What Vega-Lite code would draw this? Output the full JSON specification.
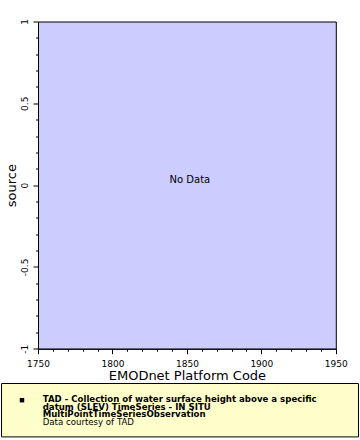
{
  "$schema": "https://vega.github.io/schema/vega-lite/v6.json",
  "padding": {"left": 1, "top": 17.5, "right": 0, "bottom": 0},
  "spacing": -2,
  "resolve": {"scale": {"x": "independent", "y": "independent"}},
  "config": {
    "font": "DejaVu Sans",
    "axis": {
      "labelColor": "#000", "titleColor": "#000", "tickColor": "#000", "domainColor": "#000",
      "labelFont": "DejaVu Sans", "titleFont": "DejaVu Sans", "titleFontWeight": "normal",
      "labelFontSize": 9, "titleFontSize": 13, "grid": false, "tickWidth": 1, "domainWidth": 1
    }
  },
  "vconcat": [
    {
      "width": 297.8,
      "height": 327.2,
      "view": {"fill": "#ccccff", "stroke": "#000", "strokeWidth": 1},
      "data": {"values": [{"message": "No Data"}]},
      "mark": {"type": "text", "font": "DejaVu Sans", "fontSize": 10, "color": "#000", "align": "center", "baseline": "alphabetic"},
      "encoding": {
        "x": {
          "datum": 1852, "type": "quantitative",
          "scale": {"domain": [1750, 1950], "nice": false, "zero": false},
          "axis": {
            "title": "EMODnet Platform Code",
            "values": [1750,1760,1770,1780,1790,1800,1810,1820,1830,1840,1850,1860,1870,1880,1890,1900,1910,1920,1930,1940,1950],
            "labelExpr": "datum.value % 50 === 0 ? toString(datum.value) : ''",
            "tickSize": {"condition": {"test": "datum.value % 50 === 0", "value": 5}, "value": 2.5},
            "labelPadding": 6, "labelFlush": false, "labelOverlap": false, "titlePadding": 1
          }
        },
        "y": {
          "datum": 0.01, "type": "quantitative",
          "scale": {"domain": [-1, 1], "nice": false, "zero": false},
          "axis": {
            "title": ["", "source"],
            "titleLineHeight": 1,
            "titleBaseline": "bottom",
            "titlePadding": 1.5,
            "values": [-1,-0.9,-0.8,-0.7,-0.6,-0.5,-0.4,-0.3,-0.2,-0.1,0,0.1,0.2,0.3,0.4,0.5,0.6,0.7,0.8,0.9,1],
            "labelExpr": "abs(datum.value*2 - round(datum.value*2)) < 1e-6 ? (datum.value < -1e-9 ? '-' + toString(abs(round(datum.value*2))/2) : toString(round(datum.value*2)/2)) : ''",
            "tickSize": {"condition": {"test": "abs(datum.value*2 - round(datum.value*2)) < 1e-6", "value": 5}, "value": 2.5},
            "labelAngle": 270, "labelAlign": "center", "labelBaseline": "bottom",
            "labelPadding": 4, "labelOverlap": false
          }
        },
        "text": {"field": "message"}
      }
    },
    {
      "width": 320.5,
      "height": 53.4,
      "view": {"stroke": null, "fill": null},
      "data": {
        "values": [
          {"line": 1, "role": "title", "text": "TAD - Collection of water surface height above a specific"},
          {"line": 2, "role": "title", "text": "datum (SLEV) TimeSeries - IN SITU"},
          {"line": 3, "role": "title", "text": "MultiPointTimeSeriesObservation"},
          {"line": 4, "role": "credit", "text": "Data courtesy of TAD"}
        ]
      },
      "layer": [
        {
          "transform": [{"filter": "datum.line === 1"}],
          "mark": {"type": "rect", "fill": "#ffffcc", "stroke": "#000", "strokeWidth": 1, "clip": false},
          "encoding": {
            "x": {"datum": 0, "type": "quantitative", "scale": {"domain": [0.10224, 1], "nice": false, "zero": false}, "axis": null},
            "x2": {"datum": 1},
            "y": {"datum": -1.4605, "type": "quantitative", "scale": {"domain": [-1.4605, 5.5658], "reverse": true, "nice": false, "zero": false}, "axis": null},
            "y2": {"datum": 5.5658}
          }
        },
        {
          "transform": [{"filter": "datum.line === 1"}],
          "mark": {"type": "point", "shape": "square", "filled": true, "color": "#000", "size": 20, "opacity": 1, "clip": false},
          "encoding": {
            "x": {"datum": 0.0574, "type": "quantitative"},
            "y": {"datum": 0.737, "type": "quantitative"}
          }
        },
        {
          "transform": [{"filter": "datum.role === 'title'"}],
          "mark": {"type": "text", "align": "left", "baseline": "alphabetic", "font": "DejaVu Sans", "fontWeight": "bold", "fontSize": 8.6, "color": "#000"},
          "encoding": {
            "x": {"datum": 0.1154, "type": "quantitative"},
            "y": {"field": "line", "type": "quantitative"},
            "text": {"field": "text"}
          }
        },
        {
          "transform": [{"filter": "datum.role === 'credit'"}],
          "mark": {"type": "text", "align": "left", "baseline": "alphabetic", "font": "DejaVu Sans", "fontWeight": "normal", "fontSize": 8.6, "color": "#000"},
          "encoding": {
            "x": {"datum": 0.1154, "type": "quantitative"},
            "y": {"field": "line", "type": "quantitative"},
            "text": {"field": "text"}
          }
        }
      ]
    }
  ]
}
